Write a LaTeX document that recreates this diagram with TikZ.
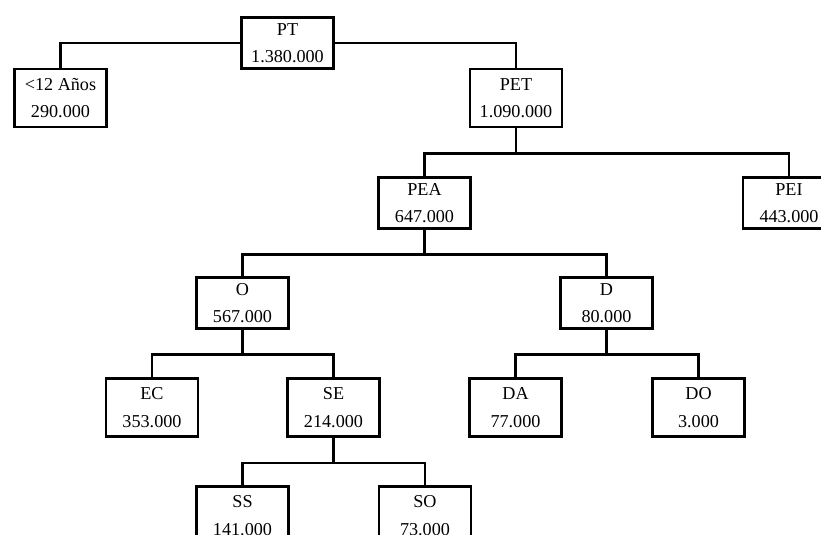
\documentclass[tikz,border=0pt]{standalone}
\usepackage{fontspec}
\setmainfont{Liberation Serif}
\begin{document}
\begin{tikzpicture}[
  x=0.03cm, y=-0.03cm,
  box/.style={draw, line width=2.2pt, align=center, inner sep=0pt,
              minimum width=2.76cm, minimum height=1.74cm,
              font=\fontsize{15.5}{23.5}\selectfont},
  flat/.style={minimum height=1.52cm},
  link/.style={line width=2.2pt}
]
\useasboundingbox (0,0) rectangle (821,534);
\clip (0,0) rectangle (821,534);
% top level
\node[box, flat] (pt) at (287.5,43) {PT\\1.380.000};
\node[box] (menor) at (60.5,98) {<12 Años\\290.000};
\node[box] (pet) at (516,98) {PET\\1.090.000};
% working age
\node[box, flat] (pea) at (424.5,203) {PEA\\647.000};
\node[box, flat] (pei) at (789,203) {PEI\\443.000};
\node[box, flat] (o) at (242.5,303) {O\\567.000};
\node[box, flat] (d) at (606.5,303) {D\\80.000};
% lower levels
\node[box] (ec) at (152,407.5) {EC\\353.000};
\node[box] (se) at (333.5,407.5) {SE\\214.000};
\node[box] (da) at (515.5,407.5) {DA\\77.000};
\node[box] (do) at (698.5,407.5) {DO\\3.000};
\node[box] (ss) at (242.5,515.5) {SS\\141.000};
\node[box] (so) at (425,515.5) {SO\\73.000};
% connectors
\draw[link] (menor.north) |- (pt.west);
\draw[link] (pt.east) -| (pet.north);
\foreach \p/\a/\b in {pet/pea/pei, pea/o/d, o/ec/se, d/da/do, se/ss/so} {
  \draw[link] (\p.south) -- ++(0,25) coordinate (j\p);
  \draw[link] (\a.north) |- (j\p) -| (\b.north);
}
\end{tikzpicture}
\end{document}
